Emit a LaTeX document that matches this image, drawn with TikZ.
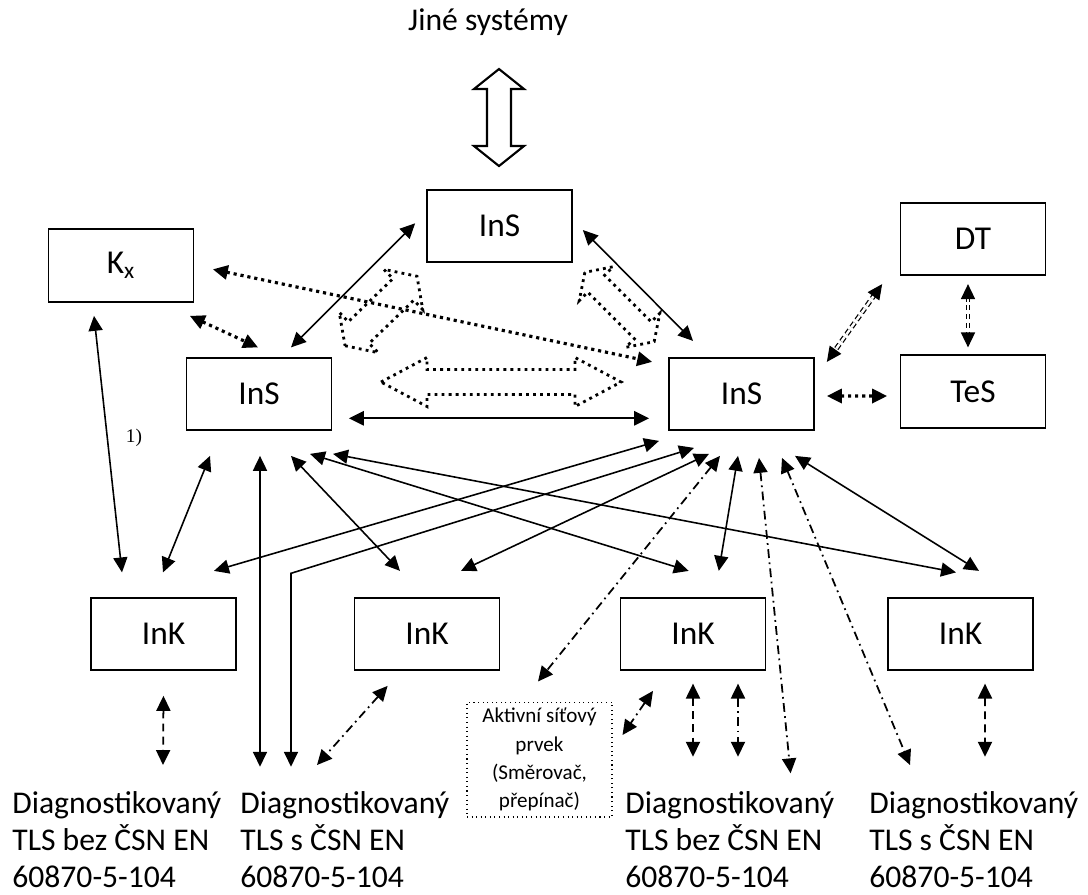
\documentclass[tikz,border=0pt]{standalone}
\usepackage{fontspec}
\setmainfont{Carlito}
\newfontfamily\timesfont{Liberation Serif}
\usetikzlibrary{arrows.meta}
\tikzset{>={Triangle[length=8.5pt,width=8pt]}}
\tikzset{
  box/.style={draw, line width=1pt, minimum width=2.9cm, minimum height=1.45cm, inner sep=0pt, font=\fontsize{19}{22}\selectfont},
  tls/.style={anchor=north west, align=left, inner sep=0pt, font=\fontsize{18}{21.2}\selectfont},
  arr/.style={<->, line width=0.9pt},
  dotarr/.style={<->, line width=1.8pt, dash pattern=on 1.8pt off 2.2pt},
  dasharr/.style={<->, line width=1pt, dash pattern=on 4.5pt off 3pt},
  dotdash/.style={<->, line width=1pt, dash pattern=on 5pt off 2.5pt on 1pt off 2.5pt},
  dblline/.style={double, double distance=1.4pt, line width=0.7pt, dash pattern=on 3pt off 2pt, shorten <=7pt, shorten >=7pt},
  dbltips/.style={<->, line width=0.7pt, dash pattern=on 0pt off 200pt},
  blockdot/.style={line width=1.6pt, dash pattern=on 1.6pt off 2.4pt}
}

\begin{document}
\begin{tikzpicture}[x=0.02cm, y=-0.02cm]
\useasboundingbox (0,0) rectangle (1088,894);

\node[font=\fontsize{18}{21}\selectfont, anchor=base] (jine) at (488,30) {Jiné systémy};

\node[box] (kx) at (121,265.5) {K\textsubscript{x}};
\node[box] (insT) at (499.5,226) {InS};
\node[box] (insL) at (259,394) {InS};
\node[box] (insR) at (741.5,394) {InS};
\node[box] (dt) at (973,239) {DT};
\node[box] (tes) at (973,391.5) {TeS};
\node[box] (ink1) at (163.5,634) {InK};
\node[box] (ink2) at (427,634) {InK};
\node[box] (ink3) at (693,634) {InK};
\node[box] (ink4) at (960.5,634) {InK};
\node[draw, line width=0.6pt, dotted, minimum width=2.9cm, minimum height=2.3cm, inner sep=0pt, align=center, font=\fontsize{12}{16}\selectfont] (akt) at (539.5,759.5) {Aktivní síťový\\prvek\\(Směrovač,\\přepínač)};

\node[tls] (tls1) at (12,791) {Diagnostikovaný\\TLS bez ČSN EN\\60870-5-104};
\node[tls] (tls2) at (240,791) {Diagnostikovaný\\TLS s ČSN EN\\60870-5-104};
\node[tls] (tls3) at (625,791) {Diagnostikovaný\\TLS bez ČSN EN\\60870-5-104};
\node[tls] (tls4) at (869,791) {Diagnostikovaný\\TLS s ČSN EN\\60870-5-104};

\node[font=\timesfont\fontsize{11}{13}\selectfont] (note) at (134,438) {1)};

\draw[line width=1.2pt] (499,69) -- (524,89) -- (511,89) -- (511,146) -- (524,146) -- (499,166) -- (474,146) -- (487,146) -- (487,89) -- (474,89) -- cycle;
\draw[blockdot] (381,382) -- (427,357.5) -- (427,369.5) -- (575,369.5) -- (575,357.5) -- (621,382) -- (575,406.5) -- (575,394.5) -- (427,394.5) -- (427,406.5) -- cycle;
\begin{scope}[shift={(381,311)}, rotate=44]
\draw[blockdot] (-50,0) -- (-31,28) -- (-31,15) -- (31,15) -- (31,28) -- (50,0) -- (31,-28) -- (31,-15) -- (-31,-15) -- (-31,-28) -- cycle;
\end{scope}
\begin{scope}[shift={(619.5,307)}, rotate=-45]
\draw[blockdot] (-49,0) -- (-33,24) -- (-33,12) -- (33,12) -- (33,24) -- (49,0) -- (33,-24) -- (33,-12) -- (-33,-12) -- (-33,-24) -- cycle;
\end{scope}

\draw[arr] ([shift={(-11,-2.7)}]insT.west) -- ([shift={(32,-9.5)}]insL.north);
\draw[arr] ([shift={(10,4)}]insT.east) -- ([shift={(-48.5,-16)}]insR.north);
\draw[dotarr] ([shift={(-4.5,13.25)}]kx.south east) -- ([shift={(-1,-9.5)}]insL.north);
\draw[dotarr] ([shift={(18.5,3.8)}]kx.east) -- ([shift={(-16,5)}]insR.north west);
\draw[arr, line width=1.3pt] ([shift={(16.5,24.3)}]insL.east) -- ([shift={(-19,24.3)}]insR.west);
\draw[dblline] ([shift={(-17.5,8)}]dt.south west) -- ([shift={(12,5)}]insR.north east);
\draw[dbltips] ([shift={(-17.5,8)}]dt.south west) -- ([shift={(12,5)}]insR.north east);
\draw[dblline] ([shift={(-5,8)}]dt.south) -- ([shift={(-5,-7)}]tes.north);
\draw[dbltips] ([shift={(-5,8)}]dt.south) -- ([shift={(-5,-7)}]tes.north);
\draw[dotarr] ([shift={(12,2)}]insR.east) -- ([shift={(-12.5,4.5)}]tes.west);

\draw[arr] ([shift={(-27,13.25)}]kx.south) -- ([shift={(-41.5,-24.5)}]ink1.north);
\draw[arr] ([shift={(-49,24.75)}]insL.south) -- ([shift={(-0.5,-24.5)}]ink1.north);
\draw[arr] ([shift={(1,24.75)}]insL.south) -- ([shift={(20,-24.3)}]tls2.north west);
\draw[arr] ([shift={(51,-24.3)}]tls2.north west) -- ++(0,-193.4) -- ([shift={(-47.5,16.75)}]insR.south);
\draw[arr] ([shift={(32,24.75)}]insL.south) -- ([shift={(-27,-26)}]ink2.north);
\draw[arr] ([shift={(51,22.75)}]insL.south) -- ([shift={(-4.3,-26)}]ink3.north);
\draw[arr] ([shift={(74,22.75)}]insL.south) -- ([shift={(-4.5,-24.5)}]ink4.north);
\draw[arr] ([shift={(-82.5,9.75)}]insR.south) -- ([shift={(50.5,-26)}]ink1.north);
\draw[arr] ([shift={(-32.5,22.75)}]insR.south) -- ([shift={(34,-26)}]ink2.north);
\draw[dotdash] ([shift={(-21.5,24.75)}]insR.south) -- ([shift={(-1.5,-20)}]akt.north);
\draw[arr] ([shift={(-3.5,24.75)}]insR.south) -- ([shift={(25.8,-26)}]ink3.north);
\draw[dotdash] ([shift={(17.5,26.75)}]insR.south) -- ([shift={(165.6,-17.7)}]tls3.north west);
\draw[dotdash] ([shift={(40.5,26.75)}]insR.south) -- ([shift={(41,-26)}]tls4.north west);
\draw[arr] ([shift={(53.5,24.75)}]insR.south) -- ([shift={(18.5,-26)}]ink4.north);

\draw[dasharr] ([shift={(0,24.75)}]ink1.south) -- ([shift={(151,-26)}]tls1.north west);
\draw[dotdash] ([shift={(-39.4,14.75)}]ink2.south) -- ([shift={(77,-26)}]tls2.north west);
\draw[dotdash] ([shift={(-40,19.75)}]ink3.south) -- ([shift={(10,-24.5)}]akt.east);
\draw[dasharr] ([shift={(0,12.5)}]ink3.south) -- ([shift={(68,-34.3)}]tls3.north west);
\draw[dotdash] ([shift={(45,12.5)}]ink3.south) -- ([shift={(113,-34.3)}]tls3.north west);
\draw[dasharr] ([shift={(24.5,12.5)}]ink4.south) -- ([shift={(116,-34.3)}]tls4.north west);

\end{tikzpicture}
\end{document}
